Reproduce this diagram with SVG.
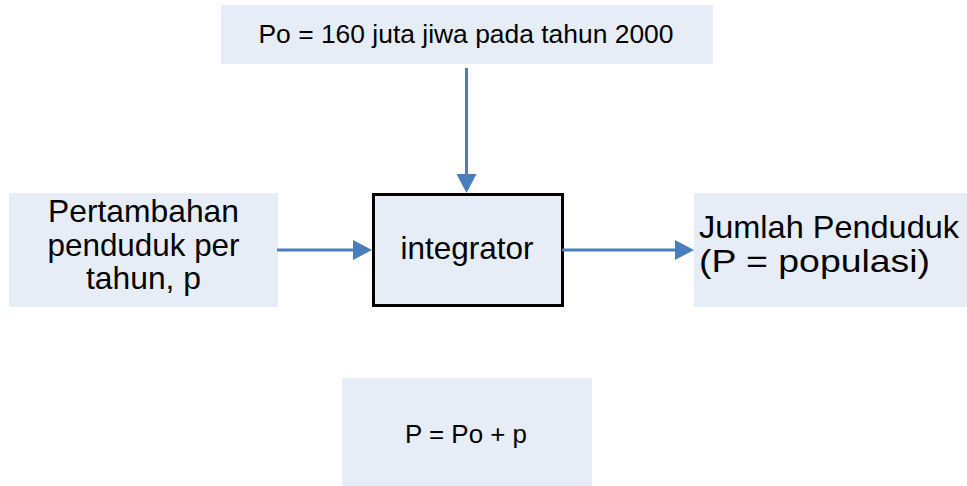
<svg xmlns="http://www.w3.org/2000/svg" width="967" height="486" viewBox="0 0 967 486">
<style>
.box{fill:#E7EDF7;}
.t{font-family:"Liberation Sans",Arial,sans-serif;fill:#000;}
.big{font-size:30.5px;}
.small{font-size:25.5px;}
.conn{stroke:#4A7EBB;stroke-width:3;fill:none;}
</style>
<defs>
<marker id="ah" markerUnits="userSpaceOnUse" markerWidth="20" markerHeight="20" refX="0" refY="10" orient="auto">
<path d="M0,0 L19,10 L0,20 z" fill="#4A7EBB"/>
</marker>
</defs>
<rect width="967" height="486" fill="#fff"/>
<g id="initial">
<rect class="box" x="221" y="5" width="492" height="59"/>
<text class="t small" x="466" y="42.5" text-anchor="middle" textLength="415" lengthAdjust="spacingAndGlyphs">Po = 160 juta jiwa pada tahun 2000</text>
</g>
<g id="input">
<rect class="box" x="9" y="193" width="269" height="114"/>
<text class="t big" x="143.5" y="222" text-anchor="middle" textLength="191" lengthAdjust="spacingAndGlyphs">Pertambahan</text>
<text class="t big" x="143.5" y="256" text-anchor="middle" textLength="192" lengthAdjust="spacingAndGlyphs">penduduk per</text>
<text class="t big" x="143.5" y="289" text-anchor="middle" textLength="115" lengthAdjust="spacingAndGlyphs">tahun, p</text>
</g>
<g id="integrator">
<rect class="box" x="373.5" y="194.5" width="189" height="111" stroke="#000" stroke-width="3"/>
<text class="t big" x="467" y="259" text-anchor="middle" textLength="133" lengthAdjust="spacingAndGlyphs">integrator</text>
</g>
<g id="output">
<rect class="box" x="694" y="193" width="273" height="114"/>
<text class="t big" x="699" y="238" textLength="260" lengthAdjust="spacingAndGlyphs">Jumlah Penduduk</text>
<text class="t big" x="699" y="272" textLength="231" lengthAdjust="spacingAndGlyphs">(P = populasi)</text>
</g>
<g id="formula">
<rect class="box" x="342" y="378" width="250" height="108"/>
<text class="t small" x="466" y="443" text-anchor="middle" textLength="122" lengthAdjust="spacingAndGlyphs">P = Po + p</text>
</g>
<g id="connectors">
<line class="conn" x1="466.5" y1="68" x2="466.5" y2="174" marker-end="url(#ah)"/>
<line class="conn" x1="277" y1="250" x2="353" y2="250" marker-end="url(#ah)"/>
<line class="conn" x1="562" y1="250" x2="675" y2="250" marker-end="url(#ah)"/>
</g>
</svg>
